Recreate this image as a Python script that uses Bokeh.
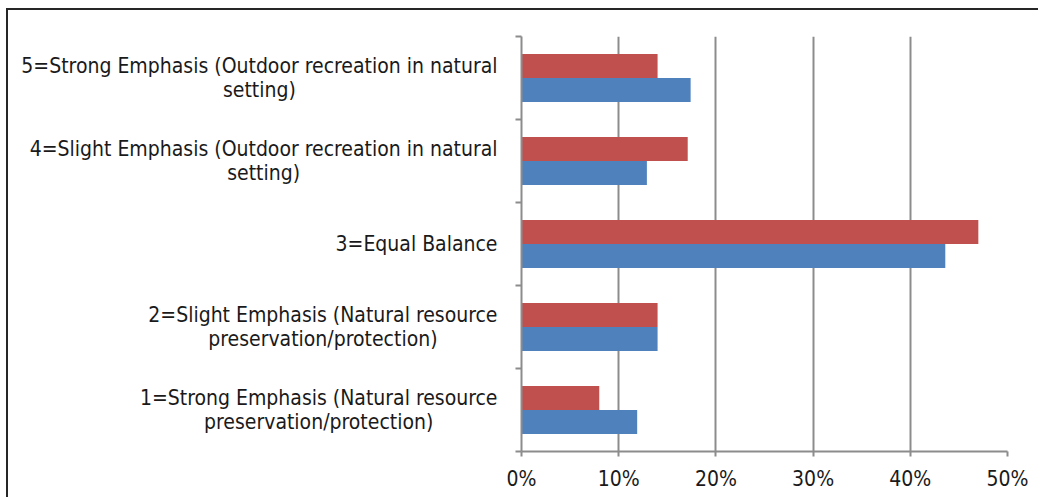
from bokeh.plotting import figure
from bokeh.models import Range1d, FixedTicker, ColumnDataSource
from bokeh.core.properties import value
from bokeh.embed import file_html
from bokeh.resources import INLINE

# ---- data (bottom to top) ----
categories = [
    "1=Strong Emphasis (Natural resource\npreservation/protection)",
    "2=Slight Emphasis (Natural resource\npreservation/protection)",
    "3=Equal Balance",
    "4=Slight Emphasis (Outdoor recreation in natural\nsetting)",
    "5=Strong Emphasis (Outdoor recreation in natural\nsetting)",
]
series_red = [8.0, 14.0, 47.0, 17.1, 14.0]
series_blue = [11.9, 14.0, 43.6, 12.9, 17.4]
x_ticks = [0, 10, 20, 30, 40, 50]
x_tick_labels = ["0%", "10%", "20%", "30%", "40%", "50%"]

FONT = "DejaVu Sans Condensed"
n = len(categories)
centers = [i + 0.5 for i in range(n)]
bar_h = 0.29

p = figure(width=1032, height=489, output_backend="svg", toolbar_location=None,
           x_range=Range1d(0, 50), y_range=Range1d(0, n),
           min_border_left=513, min_border_right=33, min_border_top=26,
           min_border_bottom=48)
# chart frame around the whole chart (top and left edges visible)
p.styles = {"border-left": "2px solid #262626", "border-top": "2px solid #262626",
            "margin-left": "6px", "margin-top": "8px"}
p.outline_line_color = None
p.background_fill_color = "white"
p.border_fill_color = "white"

src = ColumnDataSource(dict(
    y_red=[c + bar_h / 2 for c in centers],
    y_blue=[c - bar_h / 2 for c in centers],
    red=series_red, blue=series_blue,
))
p.hbar(y="y_red", left=0, right="red", height=bar_h, source=src,
       fill_color="#C0504D", line_color=None)
p.hbar(y="y_blue", left=0, right="blue", height=bar_h, source=src,
       fill_color="#4F81BD", line_color=None)

lab = p.text(x=[0] * n, y=centers, text=categories, anchor="center_right",
             text_align="center", x_offset=-24,
             text_font=value(FONT), text_font_size="21px", text_color="#1a1a1a",
             text_line_height=0.98)
lab.level = "overlay"

# x axis
xa = p.xaxis[0]
xa.ticker = FixedTicker(ticks=x_ticks)
xa.major_label_overrides = {t: l for t, l in zip(x_ticks, x_tick_labels)}
xa.major_label_text_font = FONT
xa.major_label_text_font_size = "21px"
xa.major_label_text_color = "#1a1a1a"
xa.major_label_standoff = 10
xa.axis_line_color = "#8c8c8c"
xa.axis_line_width = 2
xa.major_tick_line_color = "#8c8c8c"
xa.major_tick_line_width = 2
xa.major_tick_out = 5
xa.major_tick_in = 0
xa.minor_tick_line_color = None

# y axis: ticks at category boundaries, no labels
ya = p.yaxis[0]
ya.ticker = FixedTicker(ticks=list(range(n + 1)))
ya.major_label_overrides = {i: "" for i in range(n + 1)}
ya.major_label_standoff = 0
ya.axis_line_color = "#8c8c8c"
ya.axis_line_width = 2
ya.major_tick_line_color = "#8c8c8c"
ya.major_tick_line_width = 2
ya.major_tick_out = 6
ya.major_tick_in = 0
ya.minor_tick_line_color = None

p.xgrid.ticker = FixedTicker(ticks=x_ticks)
p.xgrid.grid_line_color = "#8c8c8c"
p.xgrid.grid_line_width = 2
p.ygrid.grid_line_color = None

open("out.html", "w").write(file_html(p, INLINE))
